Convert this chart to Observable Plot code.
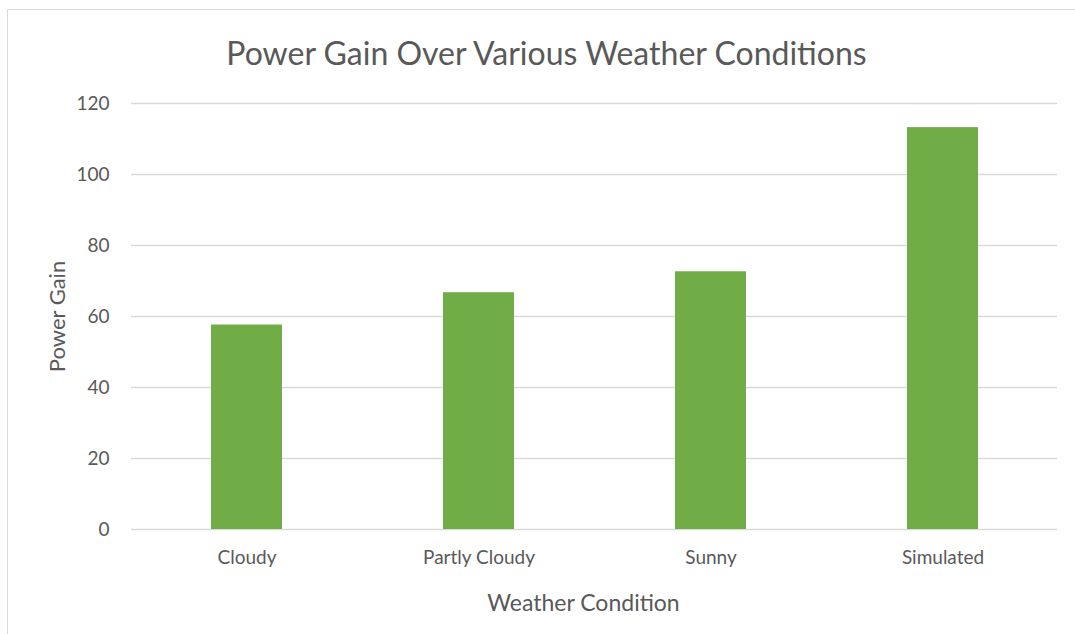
<!DOCTYPE html>
<html>
<head>
<meta charset="utf-8">
<script src="https://cdn.jsdelivr.net/npm/d3@7"></script>
<script src="https://cdn.jsdelivr.net/npm/@observablehq/plot@0.6"></script>
<style>
  html, body { margin: 0; padding: 0; background: #fff; }
  #frame { position: absolute; left: 7px; top: 9px; width: 1200px; height: 800px;
           border-top: 1px solid #d9d9d9; border-left: 1px solid #d9d9d9; }
  #chart { position: absolute; left: 0; top: 0; width: 1075px; height: 634px; font-family: Lato, sans-serif; }
  #title { height: 90px; width: 1075px; box-sizing: border-box; padding-left: 18px; padding-top: 35px;
           text-align: center; font-size: 32px; color: #595959; line-height: 36px; }
  svg { display: block; }
</style>
</head>
<body>
<div id="frame"></div>
<div id="chart">
  <div id="title">Power Gain Over Various Weather Conditions</div>
</div>
<script>
const conditions = ["Cloudy", "Partly Cloudy", "Sunny", "Simulated"];
const gains = [57.6, 66.7, 72.6, 113.2];
const yTicks = [0, 20, 40, 60, 80, 100, 120];
const xTitle = "Weather Condition";
const yTitle = "Power Gain";

const data = conditions.map((c, i) => ({condition: c, gain: gains[i]}));
const textColor = "#595959";

const plot = Plot.plot({
  width: 1075,
  height: 544,
  marginTop: 13,
  marginBottom: 105,
  marginLeft: 131,
  marginRight: 18,
  style: {fontFamily: "Lato, sans-serif", fontSize: "19px", color: textColor, background: "transparent"},
  x: {domain: conditions, paddingInner: 0.694, paddingOuter: 0.342, label: null},
  y: {domain: [0, 120], ticks: yTicks, label: null},
  marks: [
    Plot.gridY(yTicks, {stroke: "#d9d9d9", strokeOpacity: 1, strokeWidth: 1.3}),
    Plot.barY(data, {x: "condition", y: "gain", fill: "#70AD47"}),
    Plot.axisY(yTicks, {tickSize: 0, tickPadding: 22, label: null, fill: textColor, fontSize: 19}),
    Plot.axisX({tickSize: 0, tickPadding: 21, label: null, fill: textColor, fontSize: 19}),
    Plot.text([yTitle], {frameAnchor: "left", textAnchor: "middle", lineAnchor: "middle", dx: -74, rotate: -90, fontSize: 22, fill: textColor}),
    Plot.text([xTitle], {frameAnchor: "bottom", textAnchor: "middle", lineAnchor: "middle", dy: 74, dx: -11, fontSize: 23, fill: textColor})
  ]
});
document.getElementById("chart").appendChild(plot);
</script>
</body>
</html>
